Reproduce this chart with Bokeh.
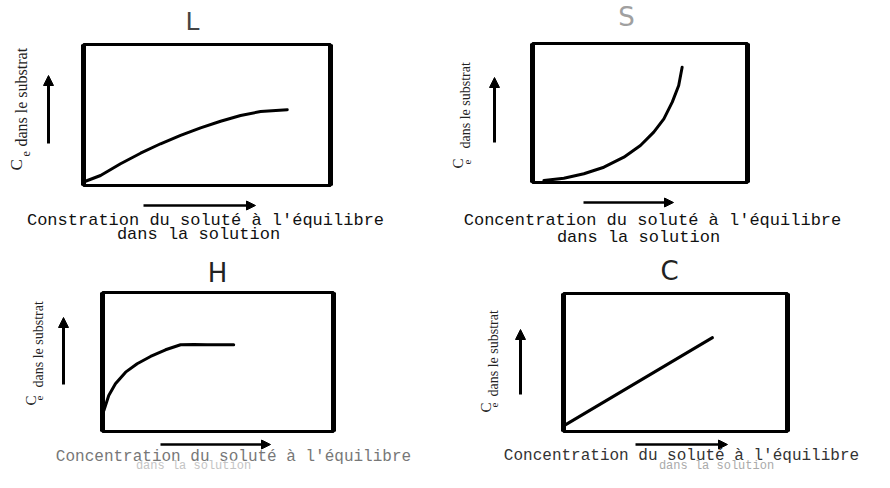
import math
from bokeh.plotting import figure
from bokeh.models import Range1d, Label, Arrow, NormalHead
from bokeh.layouts import column, row
from bokeh.embed import file_html
from bokeh.resources import INLINE

# ---- data (normalised isotherm shapes, 0..1 within each box) ----
panel_titles = ["L", "S", "H", "C"]

L_x = [0.008, 0.069, 0.150, 0.231, 0.312, 0.393, 0.474, 0.555, 0.636, 0.717, 0.825]
L_y = [0.03, 0.071, 0.154, 0.229, 0.296, 0.355, 0.409, 0.456, 0.496, 0.525, 0.537]

S_x = [0.053, 0.146, 0.239, 0.332, 0.425, 0.502, 0.564, 0.611, 0.650, 0.680, 0.696]
S_y = [0.014, 0.031, 0.063, 0.110, 0.182, 0.266, 0.362, 0.458, 0.578, 0.698, 0.829]

H_x = [0.006, 0.027, 0.056, 0.100, 0.150, 0.208, 0.273, 0.338, 0.395, 0.453, 0.568]
H_y = [0.151, 0.259, 0.343, 0.427, 0.487, 0.540, 0.588, 0.624, 0.626, 0.624, 0.624]

C_x = [0.01, 0.665]
C_y = [0.05, 0.68]

y_label_main = "dans le substrat"
x_label_L = ["Constration du soluté à l'équilibre", "dans la solution"]
x_label_other = ["Concentration du soluté à l'équilibre", "dans la solution"]

# ---- layout ----
COL_W = [445, 429]
ROW_H = [250, 222]
MONO = "Liberation Mono"
SERIF = "Liberation Serif"
SANS = "DejaVu Sans"


def make_panel(title, tpos, tcolor, tsize, box, origin, size, xs, ys,
               ylab, ysize, up, xa, xlab, xlab_pos, xlab_sizes, xlab_colors):
    l, t, r, b = box
    ox, oy = origin
    w, h = size

    def dx(px):
        return (px - l) / (r - l)

    def dy(py):
        return (b - py) / (b - t)

    p = figure(width=w, height=h, output_backend="svg", toolbar_location=None,
               x_range=Range1d(dx(ox), dx(ox + w)),
               y_range=Range1d(dy(oy + h), dy(oy)),
               x_axis_location=None, y_axis_location=None, title=None,
               min_border=0, outline_line_color=None,
               background_fill_color="white", border_fill_color="white")
    p.grid.visible = False

    # box
    p.quad(left=0, right=1, bottom=0, top=1, fill_color=None,
           line_color="black", line_width=3)
    p.segment(x0=[0, 1], y0=[0, 0], x1=[0, 1], y1=[1, 1],
              line_color="black", line_width=5)

    # curve
    p.line(xs, ys, line_color="black", line_width=3, line_cap="round", line_join="round")

    # title
    p.add_layout(Label(x=dx(tpos[0]), y=dy(tpos[1]), text=title, text_font=SANS,
                       text_font_size=f"{tsize}px", text_color=tcolor,
                       text_align="center", text_baseline="middle"))

    # y label (rotated)
    (cx, cy), (ex, ey), (sx, sy) = ylab
    p.add_layout(Label(x=dx(cx), y=dy(cy), text="C", angle=math.pi / 2,
                       text_font=SERIF, text_font_size=f"{ysize + 1}px",
                       text_align="left", text_baseline="middle", text_color="#222"))
    p.add_layout(Label(x=dx(ex), y=dy(ey), text="e", angle=math.pi / 2,
                       text_font=SERIF, text_font_size=f"{int(ysize * 0.8)}px",
                       text_align="left", text_baseline="middle", text_color="#222"))
    p.add_layout(Label(x=dx(sx), y=dy(sy), text=y_label_main, angle=math.pi / 2,
                       text_font=SERIF, text_font_size=f"{ysize}px",
                       text_align="left", text_baseline="middle", text_color="#222"))

    # arrows
    ax, ay0, ay1 = up
    p.add_layout(Arrow(x_start=dx(ax), y_start=dy(ay0), x_end=dx(ax), y_end=dy(ay1),
                       line_width=3, line_color="black",
                       end=NormalHead(size=10, fill_color="black", line_color="black")))
    bx0, bx1, by = xa
    p.add_layout(Arrow(x_start=dx(bx0), y_start=dy(by), x_end=dx(bx1), y_end=dy(by),
                       line_width=2.5, line_color="black",
                       end=NormalHead(size=9, fill_color="black", line_color="black")))

    # x label
    for txt, (px, py), fs, col in zip(xlab, xlab_pos, xlab_sizes, xlab_colors):
        p.add_layout(Label(x=dx(px), y=dy(py), text=txt, text_font=MONO,
                           text_font_size=f"{fs}px", text_color=col,
                           text_align="center", text_baseline="middle"))
    return p


pL = make_panel(panel_titles[0], (192, 21), "#444", 25, (83, 44, 330, 185), (0, 0),
                (COL_W[0], ROW_H[0]), L_x, L_y,
                ((16, 170), (25, 156), (21, 146)), 16,
                (48, 143, 75), (143, 255, 205),
                x_label_L, [(205, 220), (198, 234)], [17, 17], ["#111", "#111"])
pS = make_panel(panel_titles[1], (626, 16), "#a0a0a0", 26, (532, 43, 747, 182), (445, 0),
                (COL_W[1], ROW_H[0]), S_x, S_y,
                ((457, 168), (467, 164), (465, 148)), 14,
                (494, 142, 77), (583, 673, 202),
                x_label_other, [(652, 220), (638, 237)], [17, 17], ["#111", "#111"])
pH = make_panel(panel_titles[2], (217, 272), "#222", 26, (102, 292, 333, 431), (0, 250),
                (COL_W[0], ROW_H[1]), H_x, H_y,
                ((30, 405), (39, 400), (38, 387)), 14,
                (63, 384, 317), (160, 270, 444),
                x_label_other, [(233, 456), (193, 465)], [16, 12], ["#777", "#c4c4c4"])
pC = make_panel(panel_titles[3], (669, 270), "#222", 26, (563, 293, 787, 431), (445, 250),
                (COL_W[1], ROW_H[1]), C_x, C_y,
                ((485, 412), (494, 407), (493, 396)), 14,
                (520, 394, 329), (635, 727, 444),
                x_label_other, [(681, 455), (716, 465)], [16, 12], ["#333", "#aaa"])

layout = column(row(pL, pS), row(pH, pC))
open("out.html", "w").write(file_html(layout, INLINE))
